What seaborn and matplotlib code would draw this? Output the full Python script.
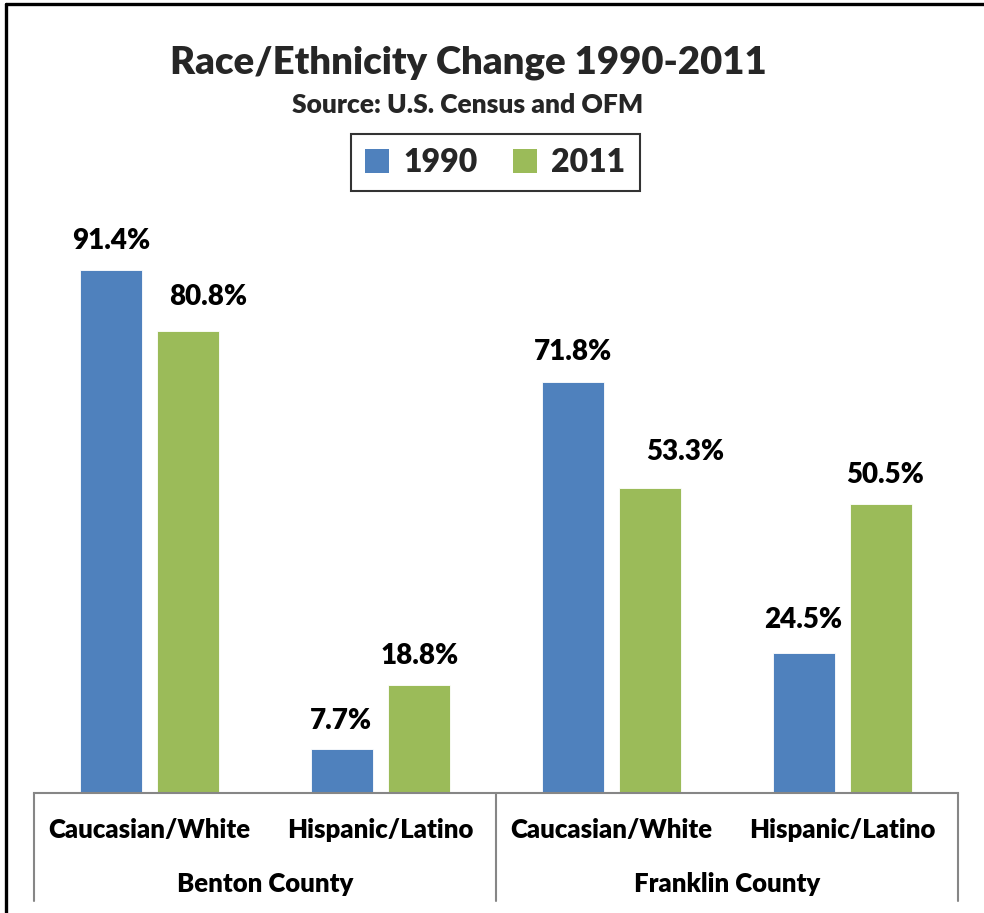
import matplotlib
matplotlib.use("Agg")
import matplotlib.pyplot as plt
import seaborn as sns
import pandas as pd
from matplotlib.lines import Line2D
from matplotlib.patches import Patch

# ---- data ----
counties = ["Benton County", "Franklin County"]
categories = ["Caucasian/White", "Hispanic/Latino"]
years = ["1990", "2011"]
values_1990 = [91.4, 7.7, 71.8, 24.5]
values_2011 = [80.8, 18.8, 53.3, 50.5]
colors = ["#4F81BD", "#9BBB59"]

# label nudges in pixels (dx, dy) per series, as placed in the original
label_offsets = [
    [(0, 29), (-1, 28), (0, 30), (-1, 33)],
    [(20, 34), (1, 29), (35, 36), (4, 29)],
]

keys = [f"{c}|{k}" for c in counties for k in categories]
rows = []
for i, key in enumerate(keys):
    rows.append({"key": key, "year": years[0], "value": values_1990[i]})
    rows.append({"key": key, "year": years[1], "value": values_2011[i]})
df = pd.DataFrame(rows)

sns.set_theme(style="white")
plt.rcParams["font.family"] = ["Lato", "DejaVu Sans"]
WT = "heavy"

W, H = 984, 913
fig = plt.figure(figsize=(W / 100, H / 100), dpi=100)
ax = fig.add_axes([34 / W, (H - 793) / H, 924 / W, 572 / H])

sns.barplot(data=df, x="key", y="value", hue="year", order=keys,
            hue_order=years, palette=colors, width=0.667, gap=0.196,
            saturation=1, ax=ax, legend=False, edgecolor="white", linewidth=0.6)

ax.set_xlim(-0.5, 3.5)
ax.set_ylim(0, 100)
ax.set_xlabel("")
ax.set_ylabel("")
ax.set_yticks([])
ax.set_xticks([])
for s in ["top", "right", "left"]:
    ax.spines[s].set_visible(False)
ax.spines["bottom"].set_color("#868686")
ax.spines["bottom"].set_linewidth(1.5)

# data labels
for ci, cont in enumerate(ax.containers):
    for bi, bar in enumerate(cont):
        h = bar.get_height()
        dx, dy = label_offsets[ci][bi]
        ax.annotate(f"{h:.1f}%", (bar.get_x() + bar.get_width() / 2, h),
                    xytext=(dx, dy), textcoords="offset pixels",
                    ha="center", va="center", fontsize=20, fontweight=WT,
                    color="black")

# category labels
trans = ax.get_xaxis_transform()
for i, key in enumerate(keys):
    ax.annotate(key.split("|")[1], (i, 0), xycoords=trans, xytext=(0, -37),
                textcoords="offset pixels", ha="center", va="center",
                fontsize=18.5, fontweight=WT, color="black", annotation_clip=False)
for j, c in enumerate(counties):
    ax.annotate(c, (2 * j + 0.5, 0), xycoords=trans, xytext=(0, -91),
                textcoords="offset pixels", ha="center", va="center",
                fontsize=18.5, fontweight=WT, color="black", annotation_clip=False)

# group separators
for xs in [-0.5, 1.5, 3.5]:
    xf = fig.transFigure.inverted().transform(ax.transData.transform((xs, 0)))[0]
    fig.add_artist(Line2D([xf, xf], [(H - 793) / H, (H - 901) / H],
                          color="#868686", linewidth=1.5))

# title
fig.text(468 / W, 1 - 63 / H, "Race/Ethnicity Change 1990-2011",
         ha="center", va="center", fontsize=27.5, fontweight=WT)
fig.text(468 / W, 1 - 105 / H, "Source: U.S. Census and OFM",
         ha="center", va="center", fontsize=19, fontweight=WT)

# legend
handles = [Patch(facecolor=colors[0], edgecolor="none"),
           Patch(facecolor=colors[1], edgecolor="none")]
leg = fig.legend(handles, years, loc="center", ncol=2,
                 bbox_to_anchor=(495.5 / W, 1 - 162.5 / H),
                 prop={"size": 23, "weight": WT}, frameon=True,
                 fancybox=False, handlelength=0.75, handleheight=0.75,
                 handletextpad=0.45, columnspacing=1.1, borderpad=0.45)
leg.get_frame().set_edgecolor("black")
leg.get_frame().set_linewidth(1.5)

# outer border (left and top visible)
fig.add_artist(Line2D([5.5 / W, 5.5 / W], [0, 1 - 4.5 / H], color="black", linewidth=2.4))
fig.add_artist(Line2D([5.5 / W, 1.0], [1 - 4.5 / H, 1 - 4.5 / H], color="black", linewidth=2.4))

fig.savefig("out.png", dpi=100)
